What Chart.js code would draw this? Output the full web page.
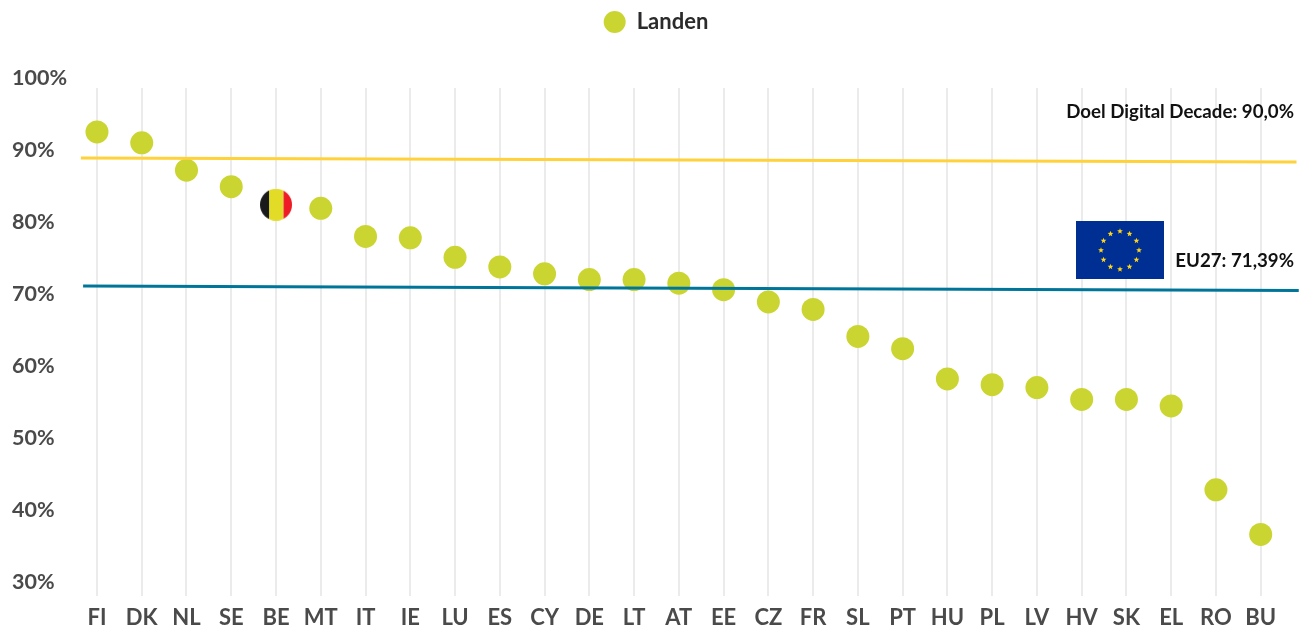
<!DOCTYPE html>
<html><head><meta charset="utf-8">
<style>html,body{margin:0;padding:0;background:#fff}#w{position:relative;width:1308px;height:625px}</style>
<script src="https://cdn.jsdelivr.net/npm/chart.js@4"></script></head>
<body><div id="w"><canvas id="c" width="1308" height="625"></canvas></div>
<script>
const categories=["FI","DK","NL","SE","BE","MT","IT","IE","LU","ES","CY","DE","LT","AT","EE","CZ","FR","SL","PT","HU","PL","LV","HV","SK","EL","RO","BU"];
const landen=[92.5,91.0,87.2,84.9,82.4,81.9,78.0,77.8,75.1,73.75,72.8,72.0,72.0,71.5,70.6,68.9,67.85,64.1,62.4,58.2,57.4,57.0,55.35,55.35,54.45,42.8,36.6];
const doelY=[88.9,88.33];
const eu27Y=[71.1,70.5];
const doelX=[-0.36,26.8];
const eu27X=[-0.31,26.85];
const yTicks=[30,40,50,60,70,80,90,100];
const highlight="BE";
const doelLabel="Doel Digital Decade: 90,0%";
const euLabel="EU27: 71,39%";

const flag=document.createElement('canvas');flag.width=32;flag.height=32;
{const g=flag.getContext('2d');g.beginPath();g.arc(16,16,16,0,Math.PI*2);g.clip();
 g.fillStyle='#1a1a1a';g.fillRect(0,0,9,32);g.fillStyle='#e3dc26';g.fillRect(9,0,14.5,32);g.fillStyle='#ee1c25';g.fillRect(23.5,0,9,32);}

const POINT='#cbd532';
const deco={id:'deco',
 beforeDatasetsDraw(ch){const{ctx,scales:{x,y}}=ch;ctx.save();ctx.strokeStyle='#ebebeb';ctx.lineWidth=2;
  const t=y.getPixelForValue(98.6),b=y.bottom;
  x.ticks.forEach(k=>{const p=Math.round(x.getPixelForValue(k.value));ctx.beginPath();ctx.moveTo(p,t);ctx.lineTo(p,b);ctx.stroke();});ctx.restore();},
 afterDatasetsDraw(ch){const{ctx}=ch;ctx.save();
  ctx.fillStyle='#002f94';ctx.fillRect(1076,221,88,58);
  const cx=1120,cy=250.3,r=19;ctx.fillStyle='#ffd51c';
  for(let i=0;i<12;i++){const a=i*Math.PI/6,sx=cx+r*Math.sin(a),sy=cy-r*Math.cos(a);ctx.beginPath();
    for(let j=0;j<10;j++){const q=j*Math.PI/5,rr=j%2?1.3:3;ctx.lineTo(sx+rr*Math.sin(q),sy-rr*Math.cos(q));}ctx.closePath();ctx.fill();}
  ctx.fillStyle='#111';ctx.font='bold 18.7px Lato';ctx.textAlign='right';ctx.textBaseline='middle';
  ctx.fillText(doelLabel,1294,112);ctx.fillText(euLabel,1294,261);ctx.restore();}
};

new Chart(document.getElementById('c'),{
 type:'line',plugins:[deco],
 data:{datasets:[
  {label:'Landen',data:landen.map((v,i)=>({x:i,y:v})),showLine:false,backgroundColor:POINT,borderColor:POINT,borderWidth:0,
   pointRadius:categories.map(c=>c===highlight?16:11.5),hoverRadius:11.5,pointBorderWidth:0,
   pointStyle:categories.map(c=>c===highlight?flag:'circle'),order:2},
  {label:'Doel',data:doelX.map((x,i)=>({x,y:doelY[i]})),borderColor:'#ffd23c',borderWidth:3,pointRadius:0,order:1,clip:false},
  {label:'EU27',data:eu27X.map((x,i)=>({x,y:eu27Y[i]})),borderColor:'#00759a',borderWidth:3,pointRadius:0,order:1,clip:false}
 ]},
 options:{responsive:false,animation:false,
  layout:{padding:{top:1,left:12,right:8,bottom:0}},
  plugins:{tooltip:{enabled:false},
   legend:{position:'top',align:'center',labels:{usePointStyle:true,boxHeight:15.5,pointStyleWidth:22,padding:10,color:'#2b2b2b',font:{family:'Lato',size:22,weight:'bold'},
    filter:i=>i.text==='Landen'}}},
  scales:{
   x:{type:'linear',min:-0.357,max:26.8,
    afterBuildTicks(s){s.ticks=categories.map((_,i)=>({value:i}));},
    afterFit(s){s.height=29;},
    border:{display:false},grid:{display:false},
    ticks:{autoSkip:false,maxRotation:0,padding:1,color:'#4a4a4a',font:{family:'Lato',size:22,weight:'bold'},callback:v=>categories[v]}},
   y:{min:28.05,max:104.86,
    afterBuildTicks(s){s.ticks=yTicks.map(v=>({value:v}));},
    afterFit(s){s.width=69;},
    border:{display:false},grid:{display:false},
    ticks:{crossAlign:'far',color:'#4a4a4a',font:{family:'Lato',size:21.5,weight:'bold'},callback:v=>v+'%'}}
  }}
});
</script></body></html>
